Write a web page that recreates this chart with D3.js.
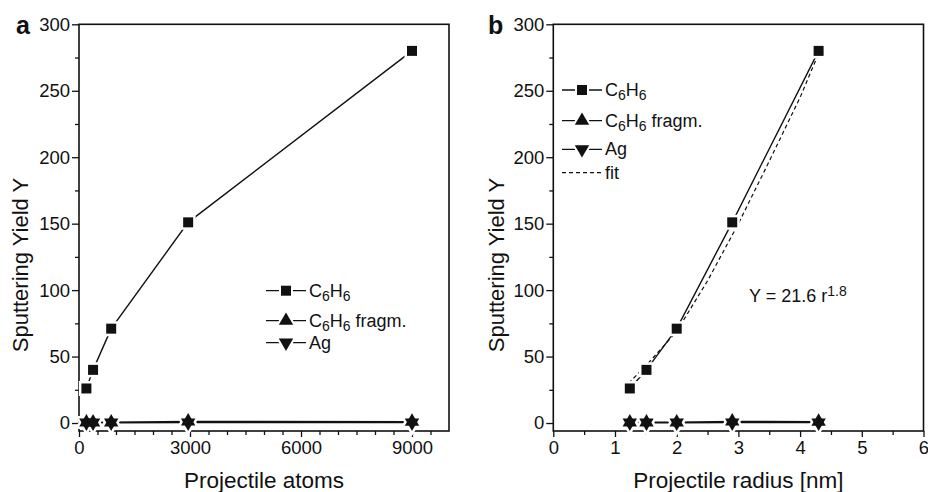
<!DOCTYPE html>
<html>
<head>
<meta charset="utf-8">
<script src="https://cdn.jsdelivr.net/npm/d3@7.9.0/dist/d3.min.js"></script>
<style>
  body { margin: 0; background: #fff; }
  text { font-family: "Liberation Sans", Arial, sans-serif; fill: #111; }
</style>
</head>
<body>
<svg id="chart" width="928" height="492"></svg>
<script>
// data
const atoms = [200, 380, 870, 2950, 9000];
const radius = [1.24, 1.51, 2.0, 2.9, 4.3];
const yieldC6H6 = [26, 40, 71, 151, 280];
const yieldFragm = [0.5, 0.6, 0.6, 1.2, 1.0];
const yieldAg = [0.2, 0.2, 0.2, 0.3, 0.3];
const fitR = [1.22, 1.5, 2.0, 2.5, 3.0, 3.5, 4.0, 4.3];
const fitY = [30, 43, 69, 107, 150, 197, 245, 278];
const yTicks = [0, 50, 100, 150, 200, 250, 300];
const xTicksA = [0, 3000, 6000, 9000];
const xTicksB = [0, 1, 2, 3, 4, 5, 6];

const svg = d3.select('#chart');

const y = d3.scaleLinear().domain([-6, 300]).range([431, 24.3]);
const FONT = '"Liberation Sans", Arial, sans-serif';

function subLabel(g, x, yy, parts) {
    // parts: [text, isSub]
    let t = g.append('text').attr('x', x).attr('y', yy).attr('font-size', 18);
    parts.forEach(([s, sub]) => {
        t.append('tspan')
            .attr('baseline-shift', sub ? '-28%' : null)
            .attr('font-size', sub ? 14 : null)
            .text(s);
    });
    return t;
}

function marker(type) {
    if (type === 'square') return d3.symbol().type(d3.symbolSquare).size(100)();
    return d3.symbol().type(d3.symbolTriangle).size(90)();
}

function drawPanel(opts) {
    const x = d3.scaleLinear().domain(opts.xDomain).range(opts.xRange);
    const g = svg.append('g');

    // minor ticks
    g.append('g').attr('transform', `translate(${opts.xRange[0]},0)`)
        .call(d3.axisLeft(y).tickValues(d3.range(25, 300, 50)).tickSize(4).tickFormat(''))
        .call(a => a.select('.domain').remove());
    g.append('g').attr('transform', 'translate(0,431)')
        .call(d3.axisBottom(x).tickValues(opts.xMinor).tickSize(4).tickFormat(''))
        .call(a => a.select('.domain').remove());

    // major axes
    g.append('g').attr('transform', `translate(${opts.xRange[0]},0)`)
        .call(d3.axisLeft(y).tickValues(yTicks).tickSize(7).tickPadding(2).tickFormat(d3.format('d')))
        .call(a => a.select('.domain').remove())
        .selectAll('text').attr('font-size', 18.5).style('font-family', FONT).attr('fill', '#111');
    g.append('g').attr('transform', 'translate(0,431)')
        .call(d3.axisBottom(x).tickValues(opts.xTicks).tickSize(6).tickPadding(4).tickFormat(d3.format('d')))
        .call(a => a.select('.domain').remove())
        .selectAll('text').attr('font-size', 18.5).style('font-family', FONT).attr('fill', '#111');
    g.selectAll('.tick line').attr('stroke', '#111').attr('stroke-width', 1.3);

    // frame
    g.append('rect')
        .attr('x', opts.xRange[0]).attr('y', 24.3)
        .attr('width', opts.xRange[1] - opts.xRange[0]).attr('height', 431 - 24.3)
        .attr('fill', 'none').attr('stroke', '#111').attr('stroke-width', 1.6);

    const line = d3.line().x(d => x(d[0])).y(d => y(d[1]));
    const series = [
        { ys: yieldC6H6, type: 'square' },
        { ys: yieldFragm, type: 'up' },
        { ys: yieldAg, type: 'down' }
    ];

    if (opts.fit) {
        g.append('path')
            .attr('d', line(fitR.map((r, i) => [r, fitY[i]])))
            .attr('fill', 'none').attr('stroke', '#111').attr('stroke-width', 1.2)
            .attr('stroke-dasharray', '4,3');
    }

    series.forEach(s => {
        g.append('path')
            .attr('d', line(opts.xs.map((v, i) => [v, s.ys[i]])))
            .attr('fill', 'none').attr('stroke', '#111').attr('stroke-width', 1.4);
    });

    // halos to make gaps in the lines round markers
    series.forEach(s => {
        g.selectAll(null).data(opts.xs.map((v, i) => [v, s.ys[i]])).join('path')
            .attr('d', marker(s.type))
            .attr('transform', d => `translate(${x(d[0])},${y(d[1])})${s.type === 'down' ? ' rotate(180)' : ''}`)
            .attr('fill', '#fff').attr('stroke', '#fff').attr('stroke-width', 5);
    });
    series.forEach(s => {
        g.selectAll(null).data(opts.xs.map((v, i) => [v, s.ys[i]])).join('path')
            .attr('d', marker(s.type))
            .attr('transform', d => `translate(${x(d[0])},${y(d[1])})${s.type === 'down' ? ' rotate(180)' : ''}`)
            .attr('fill', '#111');
    });

    // legend
    const lg = g.append('g');
    const labels = [
        [['C'], ['6', 1], ['H'], ['6', 1]],
        [['C'], ['6', 1], ['H'], ['6', 1], [' fragm.']],
        [['Ag']]
    ];
    const types = ['square', 'up', 'down'];
    opts.legendY.forEach((ly, i) => {
        lg.append('line')
            .attr('x1', opts.legendX).attr('x2', opts.legendX + 40)
            .attr('y1', ly).attr('y2', ly)
            .attr('stroke', '#111').attr('stroke-width', 1.3);
        lg.append('path').attr('d', marker(types[i]))
            .attr('transform', `translate(${opts.legendX + 20},${ly})${types[i] === 'down' ? ' rotate(180)' : ''}`)
            .attr('fill', '#fff').attr('stroke', '#fff').attr('stroke-width', 4);
        lg.append('path').attr('d', marker(types[i]))
            .attr('transform', `translate(${opts.legendX + 20},${ly})${types[i] === 'down' ? ' rotate(180)' : ''}`)
            .attr('fill', '#111');
        subLabel(lg, opts.legendX + 43, ly + 6, labels[i].map(p => [p[0], !!p[1]]));
    });
    if (opts.fit) {
        const fy = opts.legendFitY;
        lg.append('line')
            .attr('x1', opts.legendX).attr('x2', opts.legendX + 40)
            .attr('y1', fy).attr('y2', fy)
            .attr('stroke', '#111').attr('stroke-width', 1.2).attr('stroke-dasharray', '4,3');
        lg.append('text').attr('x', opts.legendX + 43).attr('y', fy + 6)
            .attr('font-size', 18).text('fit');
    }

    // axis titles and panel letter
    const cx = (opts.xRange[0] + opts.xRange[1]) / 2;
    g.append('text').attr('x', cx).attr('y', 488).attr('text-anchor', 'middle')
        .attr('font-size', 22.5).text(opts.xTitle);
    g.append('text')
        .attr('transform', `translate(${opts.yTitleX},265) rotate(-90)`)
        .attr('text-anchor', 'middle').attr('font-size', 22).text('Sputtering Yield Y');
    g.append('text').attr('x', opts.letterX).attr('y', 34)
        .attr('font-size', 25).attr('font-weight', 'bold').text(opts.letter);
    return { g, x };
}

drawPanel({
    xDomain: [0, 10000], xRange: [79, 449], xTicks: xTicksA,
    xMinor: d3.range(500, 10000, 500).filter(v => v % 3000 !== 0),
    xs: atoms, legendX: 266, legendY: [290.7, 320.7, 342.7],
    xTitle: 'Projectile atoms', yTitleX: 28, letter: 'a', letterX: 16
});

const pb = drawPanel({
    xDomain: [0, 6], xRange: [553.3, 923.5], xTicks: xTicksB,
    xMinor: d3.range(0.5, 6, 1),
    xs: radius, legendX: 562, legendY: [90, 120.7, 149.3], legendFitY: 172.7, fit: true,
    xTitle: 'Projectile radius [nm]', yTitleX: 504, letter: 'b', letterX: 488
});

// fit equation
const eq = pb.g.append('text').attr('x', 749).attr('y', 302).attr('font-size', 18);
eq.append('tspan').text('Y = 21.6 r');
eq.append('tspan').attr('baseline-shift', '45%').attr('font-size', 14).text('1.8');
</script>
</body>
</html>
